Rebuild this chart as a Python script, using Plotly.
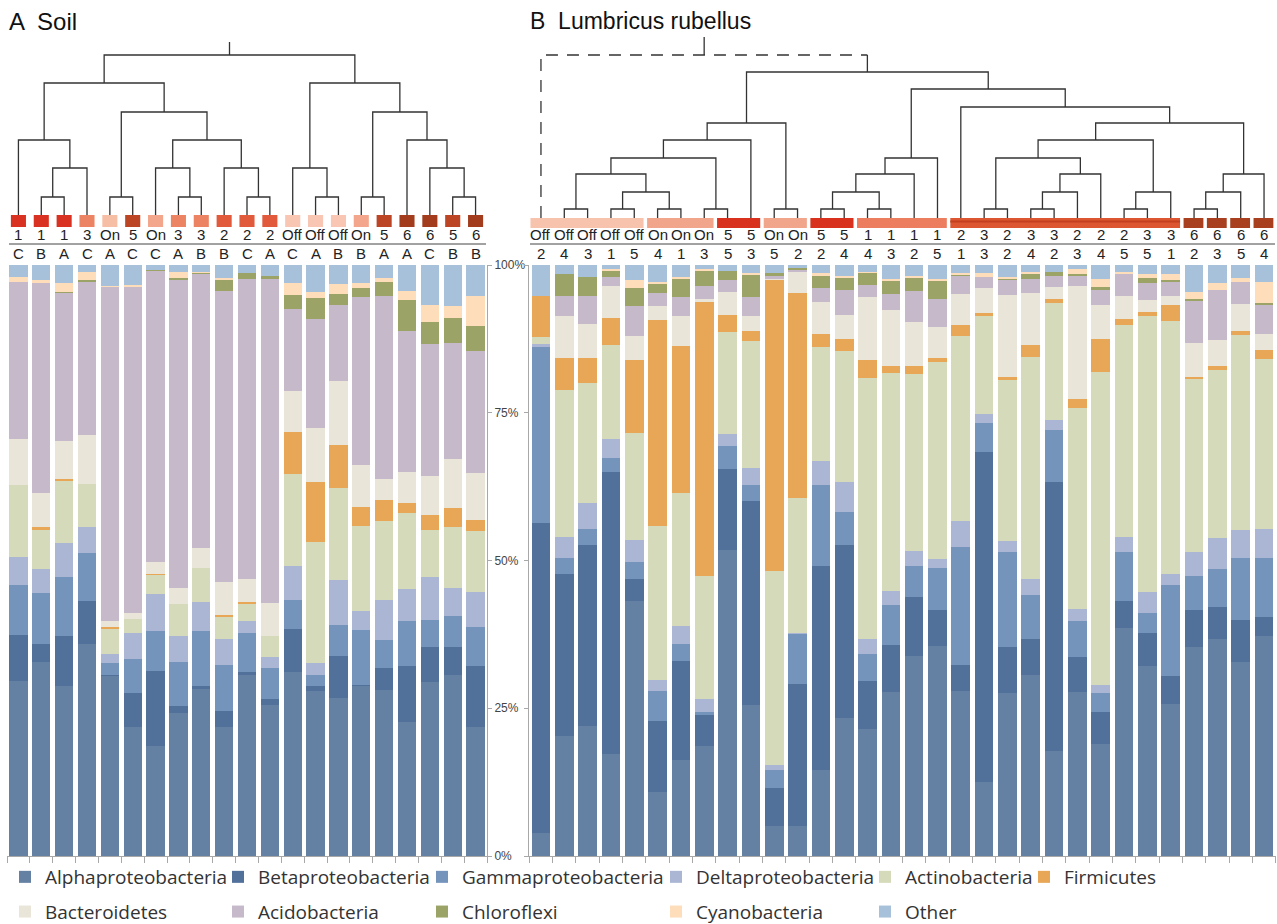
import plotly.graph_objects as go

W, H = 1277, 924

# ---------------- data ----------------
categories = ["Alphaproteobacteria", "Betaproteobacteria", "Gammaproteobacteria",
              "Deltaproteobacteria", "Actinobacteria", "Firmicutes", "Bacteroidetes",
              "Acidobacteria", "Chloroflexi", "Cyanobacteria", "Other"]

soil_top = ["1", "1", "1", "3", "On", "5", "On", "3", "3", "2", "2", "2",
            "Off", "Off", "Off", "On", "5", "6", "6", "5", "6"]
soil_bottom = ["C", "B", "A", "C", "A", "C", "C", "A", "B", "B", "C", "A",
               "C", "A", "B", "B", "A", "A", "C", "B", "B"]

soil_alpha = [29.6, 32.9, 28.8, 35.9, 30.5, 21.9, 18.6, 24.2, 28.3, 21.9, 30.7, 25.5, 31.1, 28.0, 26.8, 28.8, 28.1, 22.6, 29.4, 30.6, 21.9]
soil_beta = [7.8, 3.0, 8.4, 7.2, 0.2, 5.7, 12.7, 1.1, 0.5, 2.6, 0.4, 1.0, 7.3, 0.8, 7.0, 0.1, 3.7, 9.6, 5.9, 4.7, 10.3]
soil_gamma = [8.5, 8.6, 10.0, 8.1, 1.9, 5.8, 6.7, 7.6, 9.2, 7.9, 6.6, 5.3, 4.9, 1.9, 5.3, 9.3, 4.8, 7.6, 4.7, 5.3, 6.5]
soil_delta = [4.7, 4.1, 5.8, 4.4, 1.6, 4.3, 6.4, 4.4, 4.9, 4.4, 2.0, 1.8, 5.8, 1.9, 7.6, 3.2, 6.7, 5.4, 7.2, 4.8, 5.9]
soil_actino = [12.2, 6.7, 10.6, 7.4, 4.3, 2.4, 3.3, 5.3, 5.9, 3.8, 3.1, 3.6, 15.6, 20.6, 15.5, 14.4, 13.3, 12.9, 7.9, 10.2, 10.4]
soil_firm = [0, 0.3, 0.2, 0, 0.2, 0, 0.1, 0, 0, 0.2, 0.2, 0, 7.1, 10.0, 7.4, 3.2, 3.7, 1.6, 2.6, 3.3, 1.8]
soil_bact = [7.8, 5.9, 6.5, 8.3, 1.1, 1.0, 1.9, 2.8, 3.4, 5.5, 3.9, 5.6, 6.8, 9.3, 10.8, 7.1, 3.5, 5.2, 6.6, 8.2, 8.0]
soil_acido = [26.6, 35.5, 25.0, 25.9, 56.5, 55.2, 49.3, 52.2, 46.3, 49.3, 50.7, 54.9, 14.0, 18.3, 12.9, 28.5, 30.9, 23.9, 22.3, 19.7, 20.6]
soil_chloro = [0, 0, 0.2, 0.3, 0, 0, 0.2, 0.2, 0.2, 1.9, 1.1, 0.5, 2.3, 3.6, 1.8, 1.5, 2.5, 5.3, 3.7, 4.3, 4.3]
soil_cyano = [0.8, 0.5, 1.5, 1.3, 0.2, 0.3, 0, 1.0, 0.1, 0.3, 0, 0, 2.1, 1.1, 1.7, 0.9, 0.6, 1.5, 3.0, 2.0, 5.0]
soil_other = [2.0, 2.5, 3.0, 1.2, 3.5, 3.4, 0.8, 1.2, 1.2, 2.2, 1.3, 1.8, 3.0, 4.5, 3.2, 3.0, 2.2, 4.4, 6.7, 6.9, 5.3]

lumb_top = ["Off", "Off", "Off", "Off", "Off", "On", "On", "On", "5", "5", "On", "On",
            "5", "5", "1", "1", "1", "1", "2", "3", "2", "3", "3", "2", "2", "2", "3", "3",
            "6", "6", "6", "6"]
lumb_bottom = ["2", "4", "3", "1", "5", "4", "1", "3", "5", "3", "5", "2", "2", "4", "4", "3",
               "2", "5", "1", "3", "2", "4", "2", "3", "4", "5", "5", "1", "2", "3", "5", "4"]

lumb_alpha = [3.9, 20.3, 22.0, 17.2, 43.1, 10.9, 16.3, 18.6, 51.8, 25.5, 5.0, 5.1, 14.6, 23.4, 21.5, 27.8, 33.9, 35.5, 28.0, 12.5, 27.5, 30.6, 17.8, 27.8, 18.9, 38.6, 32.1, 25.8, 35.3, 36.7, 32.9, 37.3]
lumb_beta = [52.5, 27.5, 30.6, 47.7, 3.7, 12.0, 16.7, 5.4, 13.7, 34.6, 6.5, 24.0, 34.5, 29.2, 8.1, 7.9, 9.9, 6.1, 4.4, 55.9, 7.8, 6.1, 45.5, 5.8, 5.4, 4.5, 5.7, 4.7, 6.3, 5.4, 7.1, 3.2]
lumb_gamma = [29.8, 2.7, 2.7, 2.5, 2.9, 5.1, 2.9, 0.3, 3.9, 2.7, 3.0, 8.5, 13.6, 5.6, 4.6, 6.7, 5.2, 7.1, 19.9, 4.8, 16.1, 7.4, 8.7, 6.1, 3.2, 8.4, 3.3, 15.4, 5.8, 6.4, 10.5, 10.0]
lumb_delta = [0.5, 3.4, 4.4, 3.1, 3.7, 1.8, 3.1, 2.3, 2.0, 2.8, 0.9, 0.2, 4.2, 5.0, 2.5, 2.5, 2.6, 1.6, 4.4, 1.6, 1.9, 2.7, 1.8, 2.1, 1.4, 2.4, 3.6, 1.9, 4.1, 5.3, 4.6, 4.8]
lumb_actino = [1.1, 24.9, 20.4, 15.9, 18.2, 26.0, 22.4, 20.8, 17.3, 21.6, 32.8, 22.7, 19.3, 22.3, 44.2, 36.9, 30.0, 33.3, 31.3, 16.5, 27.2, 37.6, 19.8, 34.0, 53.0, 35.9, 46.6, 42.8, 29.2, 28.4, 33.1, 28.8]
lumb_firm = [6.9, 5.4, 4.1, 4.7, 12.4, 34.9, 24.9, 46.4, 2.9, 1.6, 49.4, 34.8, 2.1, 2.0, 3.0, 1.1, 1.3, 0.7, 1.8, 0.5, 0.6, 2.1, 0.6, 1.6, 5.6, 1.0, 0.8, 2.6, 0.4, 0.7, 0.6, 1.6]
lumb_bact = [0, 7.2, 5.8, 5.3, 4.0, 2.4, 5.0, 0.4, 3.9, 2.6, 0.1, 3.6, 5.5, 4.1, 10.7, 9.5, 7.4, 5.2, 5.3, 4.3, 13.8, 8.7, 2.1, 19.0, 5.8, 3.9, 1.9, 1.5, 5.7, 4.4, 4.6, 2.6]
lumb_acido = [0, 3.3, 4.7, 1.5, 5.1, 2.1, 3.3, 2.2, 1.9, 3.2, 0.5, 0.2, 2.3, 4.1, 2.0, 2.7, 5.3, 4.8, 3.1, 1.8, 2.7, 2.5, 1.9, 1.8, 2.6, 3.7, 2.9, 2.5, 7.2, 8.4, 3.8, 5.0]
lumb_chloro = [0, 3.7, 3.3, 1.1, 3.0, 1.7, 3.1, 2.7, 1.6, 3.8, 0.5, 0.4, 2.1, 2.2, 2.1, 2.3, 2.2, 3.1, 0.2, 0, 0.1, 0.7, 0.6, 0.3, 0.3, 0, 0.9, 0.3, 0.2, 0, 0, 0.3]
lumb_cyano = [0, 0, 0, 0.3, 1.3, 0.3, 0.2, 0.2, 0, 0.3, 0, 0, 0.5, 0.3, 0.2, 0.2, 0.4, 0.2, 0.2, 0.8, 0.3, 0.5, 0, 0.8, 1.5, 0.4, 0.7, 0.9, 1.2, 1.2, 0.6, 3.6]
lumb_other = [5.3, 1.6, 2.0, 0.7, 2.6, 2.8, 2.1, 0.7, 1.0, 1.3, 1.3, 0.5, 1.3, 1.8, 1.1, 2.4, 1.8, 2.4, 1.4, 1.3, 2.0, 1.1, 1.2, 0.7, 2.3, 1.2, 1.5, 1.6, 4.6, 3.1, 2.2, 2.8]

# dendrogram merges: (child a, child b, merge height); new cluster ids follow leaf ids
soil_merges = [
    (1, 2, 18), (21, 3, 47), (0, 22, 75), (4, 5, 18), (7, 8, 18), (6, 25, 47),
    (10, 11, 18), (9, 27, 47), (26, 28, 75), (24, 29, 103), (23, 30, 132),
    (13, 14, 18), (12, 32, 47), (15, 16, 18), (19, 20, 18), (18, 35, 47),
    (17, 36, 75), (34, 37, 103), (33, 38, 132), (31, 39, 160),
]
soil_root_top = 173

lumb_merges = [
    (1, 2, 6), (3, 4, 6), (5, 6, 6), (33, 34, 23), (32, 35, 41), (7, 8, 6),
    (36, 37, 57), (38, 9, 75), (10, 11, 6), (39, 40, 92), (12, 13, 6), (14, 15, 6),
    (42, 43, 23), (44, 16, 41), (45, 17, 57), (19, 20, 6), (21, 22, 6), (48, 23, 23),
    (49, 24, 41), (47, 50, 57), (25, 26, 6), (52, 27, 23), (51, 53, 75), (28, 29, 6),
    (55, 30, 23), (56, 31, 41), (54, 57, 92), (18, 58, 108), (46, 59, 126),
    (41, 60, 143), (0, 61, 160),
]
lumb_root_top = 178

# ---------------- styles ----------------
colors = ["#6480A3", "#52719A", "#7494BC", "#AAB6D3", "#D5DBBA", "#E8A657",
          "#E9E5D9", "#C6B9C9", "#9BA466", "#FDDDBA", "#A7C1DA"]
group_colors = {"1": "#DA3222", "2": "#E25A3C", "3": "#EC8464", "On": "#F3A68B",
                "Off": "#F8C6B2", "5": "#BC4526", "6": "#A23C1C"}
soil_box_colors = [group_colors[t] for t in soil_top]
soil_box_colors[4] = "#F7BEA6"
# lumbricus label boxes: (first leaf, last leaf, colour)
lumb_boxes = [(0, 4, "#F8C3AD"), (5, 7, "#F1A58B"), (8, 9, "#D8321F"), (10, 11, "#F1A58B"),
              (12, 13, "#D8321F"), (14, 17, "#EC7E5F"), (18, 27, "#DC5632"),
              (28, 28, "#A8401F"), (29, 29, "#A8401F"), (30, 30, "#A8401F"), (31, 31, "#A8401F")]

FONT = "Liberation Sans, Arial, sans-serif"
LEGFONT = "Open Sans, Liberation Sans, sans-serif"
LINE = "#333333"
AX = "#A8A8A8"


def px(x):
    return x / W


def py(y):
    return 1 - y / H


soil_series = [soil_alpha, soil_beta, soil_gamma, soil_delta, soil_actino, soil_firm,
               soil_bact, soil_acido, soil_chloro, soil_cyano, soil_other]
lumb_series = [lumb_alpha, lumb_beta, lumb_gamma, lumb_delta, lumb_actino, lumb_firm,
               lumb_bact, lumb_acido, lumb_chloro, lumb_cyano, lumb_other]
legend_ids = ["legend", "legend2", "legend3", "legend4", "legend5", "legend6",
              "legend", "legend2", "legend3", "legend4", "legend5"]

fig = go.Figure()
ns = len(soil_top)
nl = len(lumb_top)
for k, (name, col) in enumerate(zip(categories, colors)):
    fig.add_trace(go.Bar(x=list(range(ns)), y=soil_series[k], name=name,
                         marker=dict(color=col, line=dict(width=0)),
                         xaxis="x", yaxis="y", legend=legend_ids[k], legendgroup=name,
                         showlegend=True))
for k, (name, col) in enumerate(zip(categories, colors)):
    fig.add_trace(go.Bar(x=list(range(nl)), y=lumb_series[k], name=name,
                         marker=dict(color=col, line=dict(width=0)),
                         xaxis="x2", yaxis="y2", legendgroup=name, showlegend=False))


def dendro(n, merges, leaf_base):
    pos = {i: float(i) for i in range(n)}
    hgt = {i: leaf_base for i in range(n)}
    segs = []
    for k, (a, b, h) in enumerate(merges):
        segs.append(([pos[a], pos[a], pos[b], pos[b]], [hgt[a], h, h, hgt[b]]))
        pos[n + k] = (pos[a] + pos[b]) / 2
        hgt[n + k] = h
    return segs, pos, hgt


def add_lines(segs, xa, ya, dash="solid"):
    xs, ys = [], []
    for sx, sy in segs:
        xs += sx + [None]
        ys += sy + [None]
    fig.add_trace(go.Scatter(x=xs, y=ys, mode="lines", xaxis=xa, yaxis=ya,
                             line=dict(color=LINE, width=1.3, dash=dash),
                             showlegend=False, hoverinfo="skip"))


# soil dendrogram
segs, pos, hgt = dendro(ns, soil_merges, 0)
root = ns + len(soil_merges) - 1
segs.append(([pos[root], pos[root]], [hgt[root], soil_root_top]))
add_lines(segs, "x", "y3")

# lumbricus dendrogram (last merge dashed)
segs, pos, hgt = dendro(nl, lumb_merges, -3)
segs.pop()
root = nl + len(lumb_merges) - 1
a, b, h = lumb_merges[-1]
solid = segs + [([pos[b], pos[b]], [hgt[b], h]), ([pos[root], pos[root]], [h, lumb_root_top])]
add_lines(solid, "x2", "y4")
add_lines([([pos[a], pos[a], pos[b]], [hgt[a], h, h])], "x2", "y4", dash="12px,9px")

shapes = []
annotations = []
lab_font = dict(family=FONT, size=15, color="#222")
# soil label boxes and texts
for i in range(ns):
    shapes.append(dict(type="rect", xref="x", yref="y3", x0=i - 0.33, x1=i + 0.33, y0=-12, y1=0,
                       fillcolor=soil_box_colors[i], line=dict(width=0), layer="above"))
    annotations.append(dict(x=i, y=py(235), xref="x", yref="paper", text=soil_top[i],
                            xanchor="center", yanchor="middle", showarrow=False, font=lab_font))
    annotations.append(dict(x=i, y=py(253), xref="x", yref="paper", text=soil_bottom[i],
                            xanchor="center", yanchor="middle", showarrow=False, font=lab_font))
for (s, e, c) in lumb_boxes:
    shapes.append(dict(type="rect", xref="x2", yref="y4", x0=s - 0.45, x1=e + 0.4, y0=-13, y1=-3,
                       fillcolor=c, line=dict(width=0), layer="above"))
    if e - s > 5:
        shapes.append(dict(type="rect", xref="x2", yref="y4", x0=s - 0.45, x1=e + 0.4, y0=-7.5, y1=-5.5,
                           fillcolor="#C2401F", line=dict(width=0), layer="above"))
for i in range(nl):
    annotations.append(dict(x=i, y=py(235), xref="x2", yref="paper", text=lumb_top[i],
                            xanchor="center", yanchor="middle", showarrow=False, font=lab_font))
    annotations.append(dict(x=i, y=py(253), xref="x2", yref="paper", text=lumb_bottom[i],
                            xanchor="center", yanchor="middle", showarrow=False, font=lab_font))

# separator lines between label rows
shapes.append(dict(type="line", xref="paper", yref="paper", x0=px(9), x1=px(486), y0=py(244), y1=py(244),
                   line=dict(color="#444", width=1)))
shapes.append(dict(type="line", xref="paper", yref="paper", x0=px(530), x1=px(1275), y0=py(244), y1=py(244),
                   line=dict(color="#444", width=1)))

annotations.append(dict(x=px(7), y=py(6), xref="paper", yref="paper", xanchor="left", yanchor="top",
                        text="A  Soil", showarrow=False, font=dict(family=FONT, size=24, color="#111")))
annotations.append(dict(x=px(528), y=py(6), xref="paper", yref="paper", xanchor="left", yanchor="top",
                        text="B  Lumbricus rubellus", showarrow=False,
                        font=dict(family=FONT, size=23, color="#111")))

xs_dom = [px(7), px(487)]
xl_dom = [px(529.3), px(1275.7)]
bar_dom = [py(856), py(265)]
den_dom = [py(230), py(37)]

axis_common = dict(showgrid=False, zeroline=False, fixedrange=True)

layout = dict(
    width=W, height=H, margin=dict(l=0, r=0, t=0, b=0, pad=0, autoexpand=False),
    paper_bgcolor="white", plot_bgcolor="rgba(0,0,0,0)",
    barmode="stack", bargap=0.2,
    font=dict(family=FONT, color="#333"),
    xaxis=dict(domain=xs_dom, range=[-0.5, ns - 0.5], anchor="y",
               tickvals=[i - 0.5 for i in range(ns + 1)], ticks="outside", ticklen=6,
               tickcolor=AX, showticklabels=False, showline=True, linecolor=AX, **axis_common),
    yaxis=dict(domain=bar_dom, range=[0, 100], anchor="x", side="right",
               tickvals=[0, 25, 50, 75, 100], ticktext=["0%", "25%", "50%", "75%", "100%"],
               ticks="outside", ticklen=4, tickcolor=AX, showline=True, linecolor=AX,
               tickfont=dict(family=FONT, size=12, color="#444"), **axis_common),
    xaxis2=dict(domain=xl_dom, range=[-0.5, nl - 0.5], anchor="y2",
                tickvals=[i - 0.5 for i in range(nl + 1)], ticks="outside", ticklen=6,
                tickcolor=AX, showticklabels=False, showline=True, linecolor=AX, **axis_common),
    yaxis2=dict(domain=bar_dom, range=[0, 100], anchor="x2", side="left",
                tickvals=[0, 25, 50, 75, 100], ticks="outside", ticklen=4, tickcolor=AX,
                showticklabels=False, showline=True, linecolor=AX, **axis_common),
    yaxis3=dict(domain=den_dom, range=[-15, 178], anchor="x", visible=False, **axis_common),
    yaxis4=dict(domain=den_dom, range=[-15, 178], anchor="x2", visible=False, **axis_common),
    shapes=shapes, annotations=annotations,
)

leg_x = [5, 218, 422, 656, 865, 1024]
for j, lid in enumerate(["legend", "legend2", "legend3", "legend4", "legend5", "legend6"]):
    layout[lid] = dict(xref="paper", yref="paper", x=px(leg_x[j]), y=py(858),
                       xanchor="left", yanchor="top", orientation="v", bgcolor="rgba(0,0,0,0)",
                       tracegroupgap=7, traceorder="grouped",
                       font=dict(family=LEGFONT, size=19, color="#333"))

fig.update_layout(**layout)
fig.write_html("out.html", config={"displayModeBar": False},
               post_script="document.body.style.margin='0px';")
